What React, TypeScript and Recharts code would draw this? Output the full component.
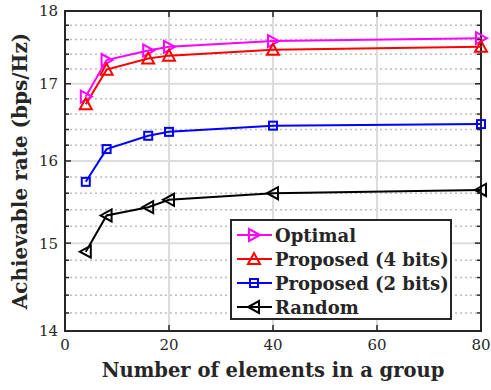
import React from "react"
import {
  LineChart,
  Line,
  XAxis,
  YAxis,
  CartesianGrid,
  ReferenceArea,
} from "recharts"

const groupSizes = [4, 8, 16, 20, 40, 80]
const optimal = [16.83, 17.32, 17.45, 17.5, 17.58, 17.62]
const proposed4 = [16.73, 17.19, 17.34, 17.38, 17.46, 17.5]
const proposed2 = [15.74, 16.15, 16.32, 16.37, 16.45, 16.47]
const randomSel = [14.9, 15.33, 15.43, 15.52, 15.6, 15.64]

const xTicks = [0, 20, 40, 60, 80]
const yMajor = [14, 15, 16, 17, 18]
const yTicks = [
  14, 14.2, 14.4, 14.6, 14.8, 15, 15.2, 15.4, 15.6, 15.8, 16, 16.2, 16.4, 16.6,
  16.8, 17, 17.2, 17.4, 17.6, 17.8, 18,
]
const yMinor = yTicks.filter((v) => !yMajor.includes(v))

const data = groupSizes.map((n, i) => ({
  n,
  optimal: optimal[i],
  p4: proposed4[i],
  p2: proposed2[i],
  rnd: randomSel[i],
}))

const W = 491
const H = 390
const M = { top: 11, right: 10, left: 10, bottom: 0 }
const Y_AXIS_W = 55
const X_AXIS_H = 59
const PLOT_L = M.left + Y_AXIS_W
const PLOT_R = W - M.right
const PLOT_T = M.top
const PLOT_B = H - M.bottom - X_AXIS_H

const AXIS = "#262626"
const FONT = "'DejaVu Serif', serif"

type Shape = "right" | "up" | "square" | "left"

function Marker({ shape, cx, cy, color }: { shape: Shape; cx: number; cy: number; color: string }) {
  const common = { fill: "none", stroke: color, strokeWidth: 2 }
  if (shape === "square") {
    return <rect x={cx - 4} y={cy - 4} width={8} height={8} {...common} />
  }
  let pts = ""
  if (shape === "right") pts = `${cx - 5},${cy - 6} ${cx - 5},${cy + 6} ${cx + 6},${cy}`
  if (shape === "left") pts = `${cx + 5},${cy - 6} ${cx + 5},${cy + 6} ${cx - 6},${cy}`
  if (shape === "up") pts = `${cx - 6},${cy + 5} ${cx + 6},${cy + 5} ${cx},${cy - 6}`
  return <polygon points={pts} {...common} strokeLinejoin="miter" />
}

const dotOf = (shape: Shape, color: string) => (props: any) => (
  <Marker key={`${shape}-${props.index}`} shape={shape} cx={props.cx} cy={props.cy} color={color} />
)

const series = [
  { key: "optimal", name: "Optimal", color: "#ff00ff", shape: "right" as Shape },
  { key: "p4", name: "Proposed (4 bits)", color: "#ff0000", shape: "up" as Shape },
  { key: "p2", name: "Proposed (2 bits)", color: "#0000ff", shape: "square" as Shape },
  { key: "rnd", name: "Random", color: "#000000", shape: "left" as Shape },
]

function XTick(props: any) {
  const { x, y, payload } = props
  return (
    <g>
      <line x1={x} x2={x} y1={PLOT_B} y2={PLOT_B - 6} stroke={AXIS} strokeWidth={1.5} />
      <line x1={x} x2={x} y1={PLOT_T} y2={PLOT_T + 6} stroke={AXIS} strokeWidth={1.5} />
      <text x={x} y={y} dy="0.75em" textAnchor="middle" fill={AXIS} fontSize={15} fontFamily={FONT}>
        {payload.value}
      </text>
    </g>
  )
}

function YTick(props: any) {
  const { x, y, payload } = props
  const v = payload.value
  const major = yMajor.includes(v)
  const len = major ? 6 : 4
  return (
    <g>
      <line x1={PLOT_L} x2={PLOT_L + len} y1={y} y2={y} stroke={AXIS} strokeWidth={1.5} />
      <line x1={PLOT_R} x2={PLOT_R - len} y1={y} y2={y} stroke={AXIS} strokeWidth={1.5} />
      {major && (
        <text x={x} y={y} dy="0.36em" textAnchor="end" fill={AXIS} fontSize={15} fontFamily={FONT}>
          {v}
        </text>
      )}
    </g>
  )
}

function LegendBox() {
  return (
    <div
      style={{
        position: "absolute",
        left: 230,
        top: 219,
        width: 222,
        height: 101,
        boxSizing: "border-box",
        background: "#fff",
        border: `2px solid ${AXIS}`,
        padding: "2px 0 0 4px",
        fontFamily: FONT,
        fontWeight: "bold",
        fontSize: 18,
        color: AXIS,
      }}
    >
      {series.map((s) => (
        <div key={s.key} style={{ display: "flex", alignItems: "center", height: 24 }}>
          <svg width={38} height={20} style={{ flex: "none" }}>
            <line x1={1} x2={36} y1={10} y2={10} stroke={s.color} strokeWidth={2} />
            <Marker shape={s.shape} cx={18} cy={10} color={s.color} />
          </svg>
          <span style={{ marginLeft: 1, whiteSpace: "nowrap" }}>{s.name}</span>
        </div>
      ))}
    </div>
  )
}

export default function App() {
  return (
    <div style={{ position: "absolute", left: 0, top: 0, width: W, height: H, background: "#fff" }}>
      <LineChart width={W} height={H} data={data} margin={M}>
        <CartesianGrid
          horizontalValues={yMinor}
          vertical={false}
          stroke="#bdbdbd"
          strokeWidth={1.5}
          strokeDasharray="2 3"
        />
        <CartesianGrid
          horizontalValues={[15, 16, 17]}
          verticalValues={[20, 40, 60]}
          stroke="#dcdcdc"
          strokeWidth={2}
        />
        <XAxis
          dataKey="n"
          type="number"
          domain={[0, 80]}
          ticks={xTicks}
          height={X_AXIS_H}
          axisLine={false}
          tickLine={false}
          tickSize={6}
          tickMargin={2}
          tick={<XTick />}
          interval={0}
          label={{
            value: "Number of elements in a group",
            position: "insideBottom",
            offset: 13,
            fill: AXIS,
            fontSize: 19.5,
            fontWeight: "bold",
            fontFamily: FONT,
          }}
        />
        <YAxis
          type="number"
          scale="log"
          domain={[14, 18]}
          allowDataOverflow
          ticks={yTicks}
          width={Y_AXIS_W}
          axisLine={false}
          tickLine={false}
          tickSize={4}
          tickMargin={3}
          tick={<YTick />}
          interval={0}
          label={{
            value: "Achievable rate (bps/Hz)",
            angle: -90,
            position: "insideLeft",
            offset: 10,
            style: { textAnchor: "middle" },
            fill: AXIS,
            fontSize: 20,
            fontWeight: "bold",
            fontFamily: FONT,
          }}
        />
        {series.map((s) => (
          <Line
            key={s.key}
            dataKey={s.key}
            name={s.name}
            stroke={s.color}
            strokeWidth={2}
            dot={dotOf(s.shape, s.color)}
            activeDot={false}
            isAnimationActive={false}
          />
        ))}
        <ReferenceArea x1={0} x2={80} y1={14} y2={18} fill="none" stroke={AXIS} strokeWidth={2} />
      </LineChart>
      <LegendBox />
    </div>
  )
}
